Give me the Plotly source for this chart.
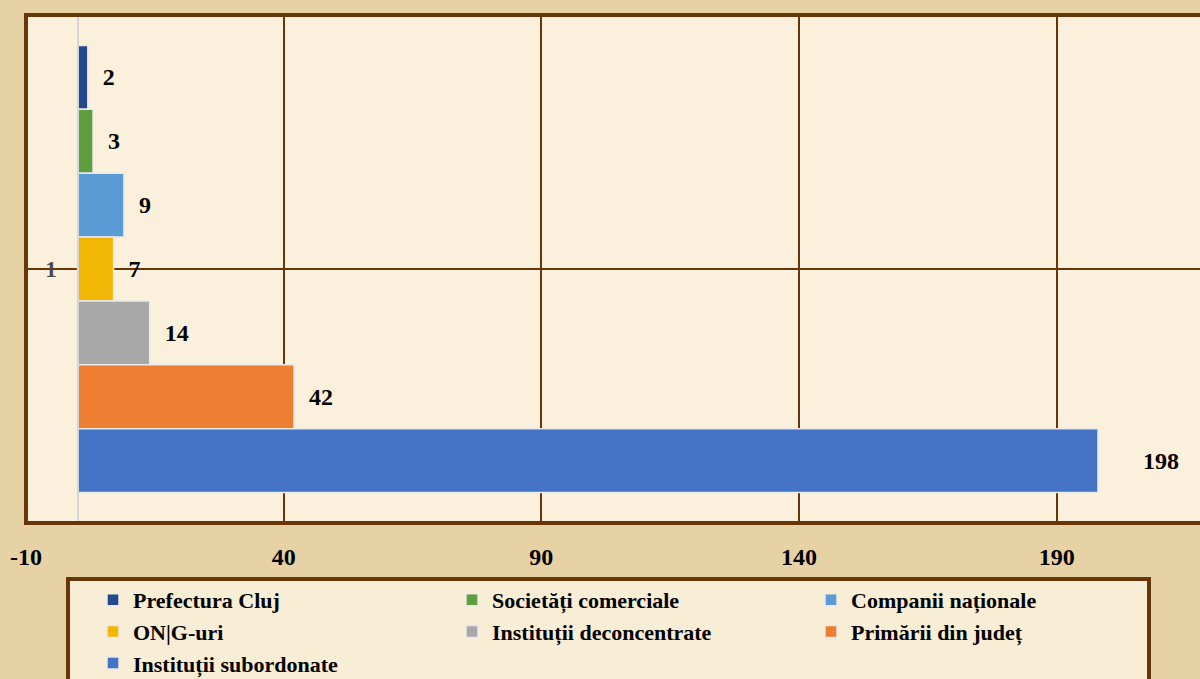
import plotly.graph_objects as go

# ---- data ----
series_names = ["Prefectura Cluj", "Societăți comerciale", "Companii naționale",
                "ON|G-uri", "Instituții deconcentrate", "Primării din județ",
                "Instituții subordonate"]
series_values = [2, 3, 9, 7, 14, 42, 198]
category = [1]
x_tick_vals = [-10, 40, 90, 140, 190]
x_tick_text = ["-10", "40", "90", "140", "190"]

# ---- style ----
colors = ["#24498A", "#5E9E3E", "#5B9BD5", "#F2B705", "#A8A8A8", "#EE7E32", "#4472C4"]
label_pad = [2, 2, 2, 2, 2, 2, 7]
BROWN = "#663508"
SERIF = "Liberation Serif"

W, H = 1200, 679
L, R, T, B = 26, 0, 15, 156
pw, ph = W - L - R, H - T - B

def px_x(p):
    return (p - L) / pw

def px_y(p):
    return (H - B - p) / ph

fig = go.Figure()
for name, val, col, pad in zip(series_names, series_values, colors, label_pad):
    fig.add_trace(go.Bar(
        name=name, orientation="h", x=[val], y=category,
        marker=dict(color=col, line=dict(color="#E9E9E9", width=1.5)),
        text=[" " * pad + str(val)], textposition="outside",
        textfont=dict(family=SERIF, size=24, color="black", weight="bold"),
        cliponaxis=False,
    ))

fig.update_layout(
    width=W, height=H,
    margin=dict(l=L, r=R, t=T, b=B, autoexpand=False),
    paper_bgcolor="#E7D2A6",
    plot_bgcolor="#FAF0DB",
    barmode="group", bargap=0.12, bargroupgap=0,
    showlegend=True,
    legend=dict(
        orientation="h", x=px_x(93), y=px_y(579), xanchor="left", yanchor="top",
        entrywidth=314, entrywidthmode="pixels",
        font=dict(family=SERIF, size=22, color="black", weight="bold"),
        bgcolor="rgba(0,0,0,0)", borderwidth=0, traceorder="normal",
        itemwidth=30,
    ),
    xaxis=dict(
        range=[-10, 217.8], tickmode="array", tickvals=x_tick_vals, ticktext=x_tick_text,
        showgrid=True, gridcolor=BROWN, gridwidth=2,
        zeroline=False, showline=False, ticks="",
        tickfont=dict(family=SERIF, size=24, color="black", weight="bold"),
        ticklabelstandoff=17,
    ),
    yaxis=dict(
        range=[1.5, 0.5], tickmode="array", tickvals=category, ticktext=["1"],
        showgrid=True, gridcolor=BROWN, gridwidth=2,
        zeroline=False, showline=True, linecolor="#D6D6D6", linewidth=1.5,
        anchor="free", position=px_x(78), ticks="",
        minor=dict(tickvals=[0.5, 1.5], ticks="outside", ticklen=6,
                   tickcolor="#D6D6D6", tickwidth=1.5, showgrid=False),
        tickfont=dict(family=SERIF, size=23, color="#4A4A4A", weight="bold"),
        ticklabelstandoff=16,
    ),
)

# plot frame (right side is cut off in the reference)
fig.add_shape(type="line", xref="paper", yref="paper", x0=0, x1=1.02, y0=1, y1=1,
              line=dict(color=BROWN, width=4))
fig.add_shape(type="line", xref="paper", yref="paper", x0=0, x1=1.02, y0=0, y1=0,
              line=dict(color=BROWN, width=4))
fig.add_shape(type="line", xref="paper", yref="paper", x0=0, x1=0, y0=-0.004, y1=1.004,
              line=dict(color=BROWN, width=4))
# legend box
fig.add_shape(type="rect", xref="paper", yref="paper",
              x0=px_x(68), x1=px_x(1149), y0=px_y(700), y1=px_y(579),
              fillcolor="#F8EDD5", line=dict(color=BROWN, width=4), layer="below")

fig.write_html("out.html", config={"displayModeBar": False},
               post_script="document.body.style.margin='0';document.body.style.background='#E7D2A6';")
